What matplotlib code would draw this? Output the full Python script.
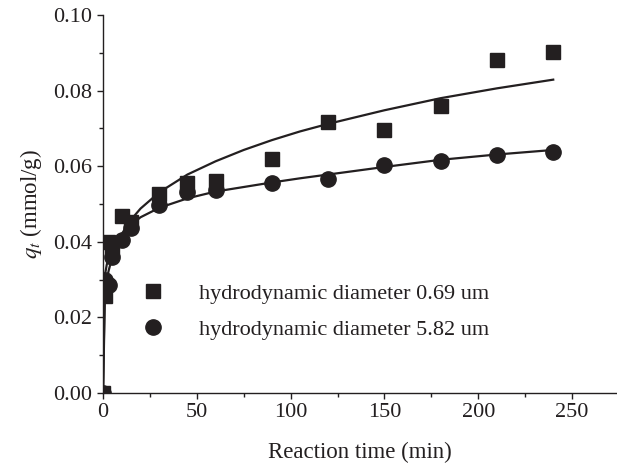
import matplotlib
matplotlib.use("Agg")
import matplotlib.pyplot as plt
from matplotlib.ticker import MultipleLocator, FormatStrFormatter

plt.rcParams['font.family'] = ['Liberation Serif', 'DejaVu Serif']
plt.rcParams['mathtext.fontset'] = 'stix'

# measured uptake, hydrodynamic diameter 0.69 um
t_small = [0, 1, 2.5, 5, 10, 15, 30, 45, 60, 90, 120, 150, 180, 210, 240]
q_small = [0, 0.0257, 0.0400, 0.0380, 0.0467, 0.0452, 0.0527, 0.0556, 0.0560,
           0.0620, 0.0716, 0.0696, 0.0760, 0.0882, 0.0901]

# measured uptake, hydrodynamic diameter 5.82 um
t_large = [0, 1, 3, 5, 10, 15, 30, 45, 60, 90, 120, 150, 180, 210, 240]
q_large = [0, 0.0300, 0.0287, 0.0361, 0.0405, 0.0436, 0.0498, 0.0533, 0.0536,
           0.0555, 0.0566, 0.0604, 0.0615, 0.0630, 0.0638]

# fitted kinetic curves
t_fit = [0, 1, 2, 3, 5, 7.5, 10, 15, 20, 30, 45, 60, 75, 90, 105, 120, 150, 180, 210, 240]
q_fit_small = [0, 0.0258, 0.0299, 0.0324, 0.0361, 0.0393, 0.0421, 0.0459, 0.0488,
               0.0531, 0.0578, 0.0613, 0.0643, 0.0669, 0.0692, 0.0712, 0.0748,
               0.0780, 0.0806, 0.0829]
q_fit_large = [0, 0.0312, 0.0340, 0.0358, 0.0380, 0.0400, 0.0418, 0.0445, 0.0465,
               0.0490, 0.0515, 0.0533, 0.0545, 0.0557, 0.0568, 0.0578, 0.0598,
               0.0617, 0.0631, 0.0643]

labels = ['hydrodynamic diameter 0.69 um', 'hydrodynamic diameter 5.82 um']
ink = '#231f20'

fig = plt.figure(figsize=(6.17, 4.69), dpi=100)
ax = fig.add_axes([0.167, 0.162, 0.833, 0.806])

ax.plot(t_fit, q_fit_small, color=ink, lw=1.6, zorder=2)
ax.plot(t_fit, q_fit_large, color=ink, lw=1.6, zorder=2)
ax.plot(t_small, q_small, 's', color=ink, ms=9.5, label=labels[0], zorder=3)
ax.plot(t_large, q_large, 'o', color=ink, ms=11, label=labels[1], zorder=3)

ax.set_xlim(0, 274)
ax.set_ylim(0, 0.10)
ax.xaxis.set_major_locator(MultipleLocator(50))
ax.xaxis.set_minor_locator(MultipleLocator(25))
ax.yaxis.set_major_locator(MultipleLocator(0.02))
ax.yaxis.set_minor_locator(MultipleLocator(0.01))
ax.yaxis.set_major_formatter(FormatStrFormatter('%.2f'))

for side in ['top', 'right']:
    ax.spines[side].set_visible(False)
for side in ['left', 'bottom']:
    ax.spines[side].set_color(ink)
    ax.spines[side].set_linewidth(1.0)
    ax.spines[side].set_zorder(4)
ax.tick_params(which='major', direction='out', length=4.5, width=1.0, color=ink,
               labelsize=16, labelcolor=ink, pad=3)
ax.tick_params(which='minor', direction='out', length=3, width=1.0, color=ink)

ax.set_xlabel('Reaction time (min)', fontsize=16.5, color=ink, labelpad=14)
ax.set_ylabel('$q_t$ (mmol/g)', fontsize=16.5, color=ink, labelpad=7)

ax.legend(loc='center left', bbox_to_anchor=(0.05, 0.215), frameon=False,
          fontsize=16, handletextpad=1.45, labelspacing=0.68, borderpad=0,
          handlelength=1.2, labelcolor=ink)

fig.savefig('out.png', dpi=100)
